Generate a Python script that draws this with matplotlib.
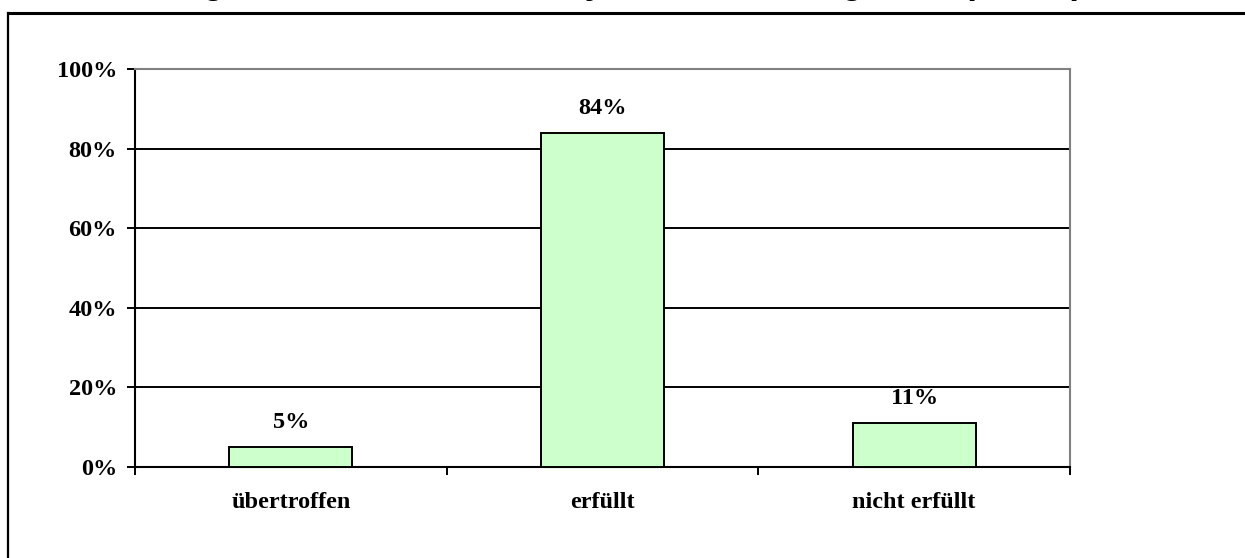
import matplotlib

matplotlib.use("Agg")
import matplotlib.pyplot as plt
from matplotlib.lines import Line2D

categories = ["übertroffen", "erfüllt", "nicht erfüllt"]
shares = [5, 84, 11]
y_ticks = [0, 20, 40, 60, 80, 100]
y_tick_labels = ["0%", "20%", "40%", "60%", "80%", "100%"]
title = "Einhaltung der Termine laut Analyse – Gesamtergebnis (Anteil)"

W, H = 1245, 558
fig = plt.figure(figsize=(W / 100, H / 100), dpi=100)
fig.patch.set_facecolor("white")

# chart frame (only top and left edges fall inside the image)
fig.add_artist(Line2D([8 / W, 1.0], [1 - 13 / H, 1 - 13 / H], color="black",
                      lw=2.2, transform=fig.transFigure))
fig.add_artist(Line2D([8 / W, 8 / W], [0, 1 - 13 / H], color="black",
                      lw=1.6, transform=fig.transFigure))

# title sits mostly above the visible area
fig.text(45 / W, 1 + 6 / H, title, ha="left", va="baseline",
         fontsize=25, fontweight="bold", family="Liberation Sans")

ax = fig.add_axes([135 / W, (H - 467) / H, 935 / W, 398 / H])
x = range(len(categories))
ax.bar(x, shares, width=0.395, color="#CCFFCC", edgecolor="black",
       linewidth=1.4, zorder=3)

serif = {"family": "Liberation Serif", "weight": "bold", "size": 17.5}
for i, v in enumerate(shares):
    ax.annotate(f"{v}%", (i, v), xytext=(0, 10), textcoords="offset points",
                ha="center", va="bottom", **serif)

ax.set_xlim(-0.5, len(categories) - 0.5)
ax.set_ylim(0, 100)
ax.set_yticks(y_ticks)
ax.set_yticklabels(y_tick_labels, **serif)
ax.set_xticks([i - 0.5 for i in range(len(categories) + 1)])
ax.set_xticklabels([])
ax.set_xticks(list(x), minor=True)
ax.set_xticklabels(categories, minor=True, **serif)
ax.tick_params(axis="x", which="minor", length=0, pad=18)
ax.tick_params(axis="x", which="major", length=6, width=1.4, direction="out")
ax.tick_params(axis="y", length=6, width=1.4, direction="out", pad=7)

ax.yaxis.grid(True, color="black", linewidth=1.4, zorder=0)
ax.set_axisbelow(True)
for side in ("left", "bottom"):
    ax.spines[side].set_color("black")
    ax.spines[side].set_linewidth(1.5)
for side in ("top", "right"):
    ax.spines[side].set_color("#808080")
    ax.spines[side].set_linewidth(1.5)

fig.savefig("out.png", dpi=100)
